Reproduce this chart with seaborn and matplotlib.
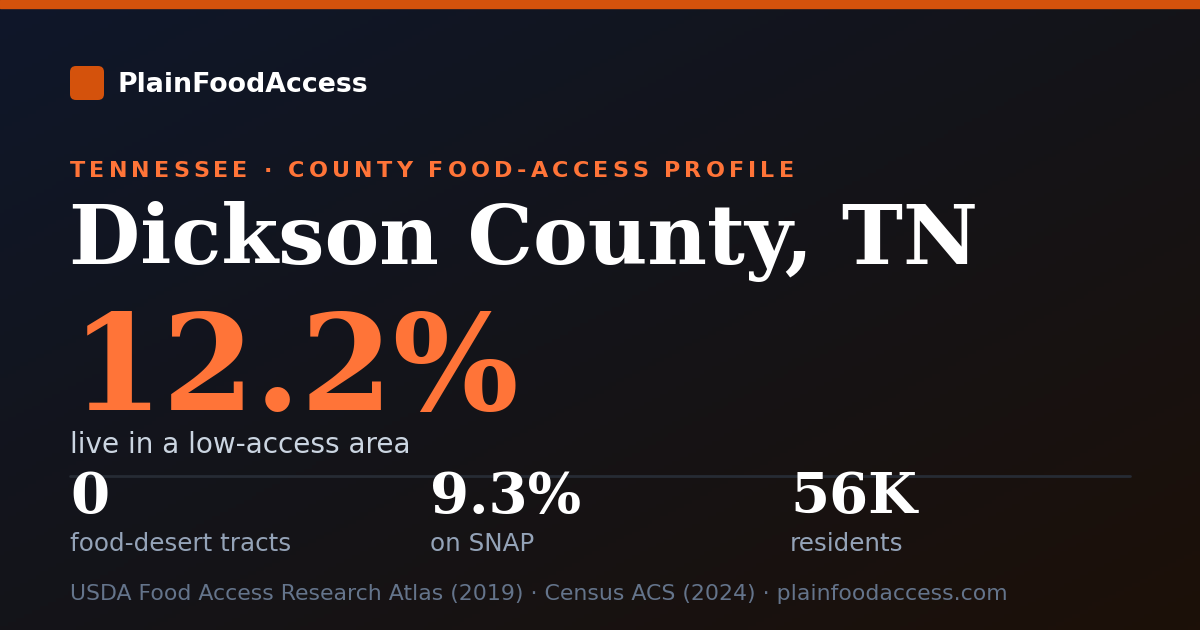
"""
Card: food-access profile for Dickson County, TN
"""
import matplotlib
matplotlib.use("Agg")
import matplotlib.pyplot as plt
from matplotlib.colors import LinearSegmentedColormap
from matplotlib.patches import FancyBboxPatch
from matplotlib.font_manager import FontProperties
import numpy as np
import seaborn as sns

# data
brand = "PlainFoodAccess"
kicker = "TENNESSEE · COUNTY FOOD-ACCESS PROFILE"
county = "Dickson County, TN"
headline_value = "12.2%"
headline_label = "live in a low-access area"
stat_values = ["0", "9.3%", "56K"]
stat_labels = ["food-desert tracts", "on SNAP", "residents"]
source = "USDA Food Access Research Atlas (2019) · Census ACS (2024) · plainfoodaccess.com"

ORANGE = "#d4520c"
ACCENT = "#ff7438"
W, H = 1200, 630

sns.set_theme(style="white")
plt.rcParams["font.family"] = ["DejaVu Sans"]

fig = plt.figure(figsize=(W / 100, H / 100), dpi=100)
ax = fig.add_axes([0, 0, 1, 1])
ax.set_xlim(0, W)
ax.set_ylim(H, 0)
ax.axis("off")

# diagonal background gradient
xx, yy = np.meshgrid(np.linspace(0, 1, 300), np.linspace(0, 1, 160))
grad = (xx + yy) / 2
cmap = LinearSegmentedColormap.from_list("bg", ["#0f172a", "#141419", "#1c1008"])
ax.imshow(grad, cmap=cmap, extent=[0, W, H, 0], aspect="auto", zorder=0)

# top bar
ax.axhspan(0, 8, color=ORANGE, zorder=1)

# logo
ax.add_patch(FancyBboxPatch((70, 66), 34, 34, boxstyle="round,pad=0,rounding_size=6",
                            fc=ORANGE, ec="none", zorder=2))
ax.text(118, 92, brand, color="white", fontsize=19.3, fontweight="bold", va="baseline", zorder=3)

# kicker with letter spacing
renderer = fig.canvas.get_renderer()
kp = FontProperties(family="DejaVu Sans", weight="bold", size=16)
bar_w = renderer.get_text_width_height_descent("|", kp, ismath=False)[0]
spacing = 4.2
for i, ch in enumerate(kicker):
    pre = renderer.get_text_width_height_descent(kicker[:i] + "|", kp, ismath=False)[0] - bar_w
    ax.text(70 + pre + i * spacing, 177, ch, fontproperties=kp, color=ACCENT, va="baseline", zorder=3)

# title + headline
ax.text(69, 264, county, family="DejaVu Serif", fontweight="bold", fontsize=59.1,
        color="white", va="baseline", zorder=3)
ax.text(71, 410, headline_value, family="DejaVu Serif", fontweight="bold", fontsize=95.5,
        color=ACCENT, va="baseline", zorder=3)
ax.text(70, 453, headline_label, fontsize=20.1, color="#cbd5e1", va="baseline", zorder=3)

# divider
ax.plot([70, 1130], [476, 476], color="#262b34", lw=2, zorder=2)

# stats
for i, (val, lab) in enumerate(zip(stat_values, stat_labels)):
    x = 70 + i * 360
    ax.text(x, 513, val, family="DejaVu Serif", fontweight="bold", fontsize=40.5,
            color="white", va="baseline", zorder=3)
    ax.text(x, 551, lab, fontsize=17.7, color="#94a3b8", va="baseline", zorder=3)

ax.text(70, 600, source, fontsize=15.85, color="#64748b", va="baseline", zorder=3)

fig.savefig("out.png", dpi=100)
